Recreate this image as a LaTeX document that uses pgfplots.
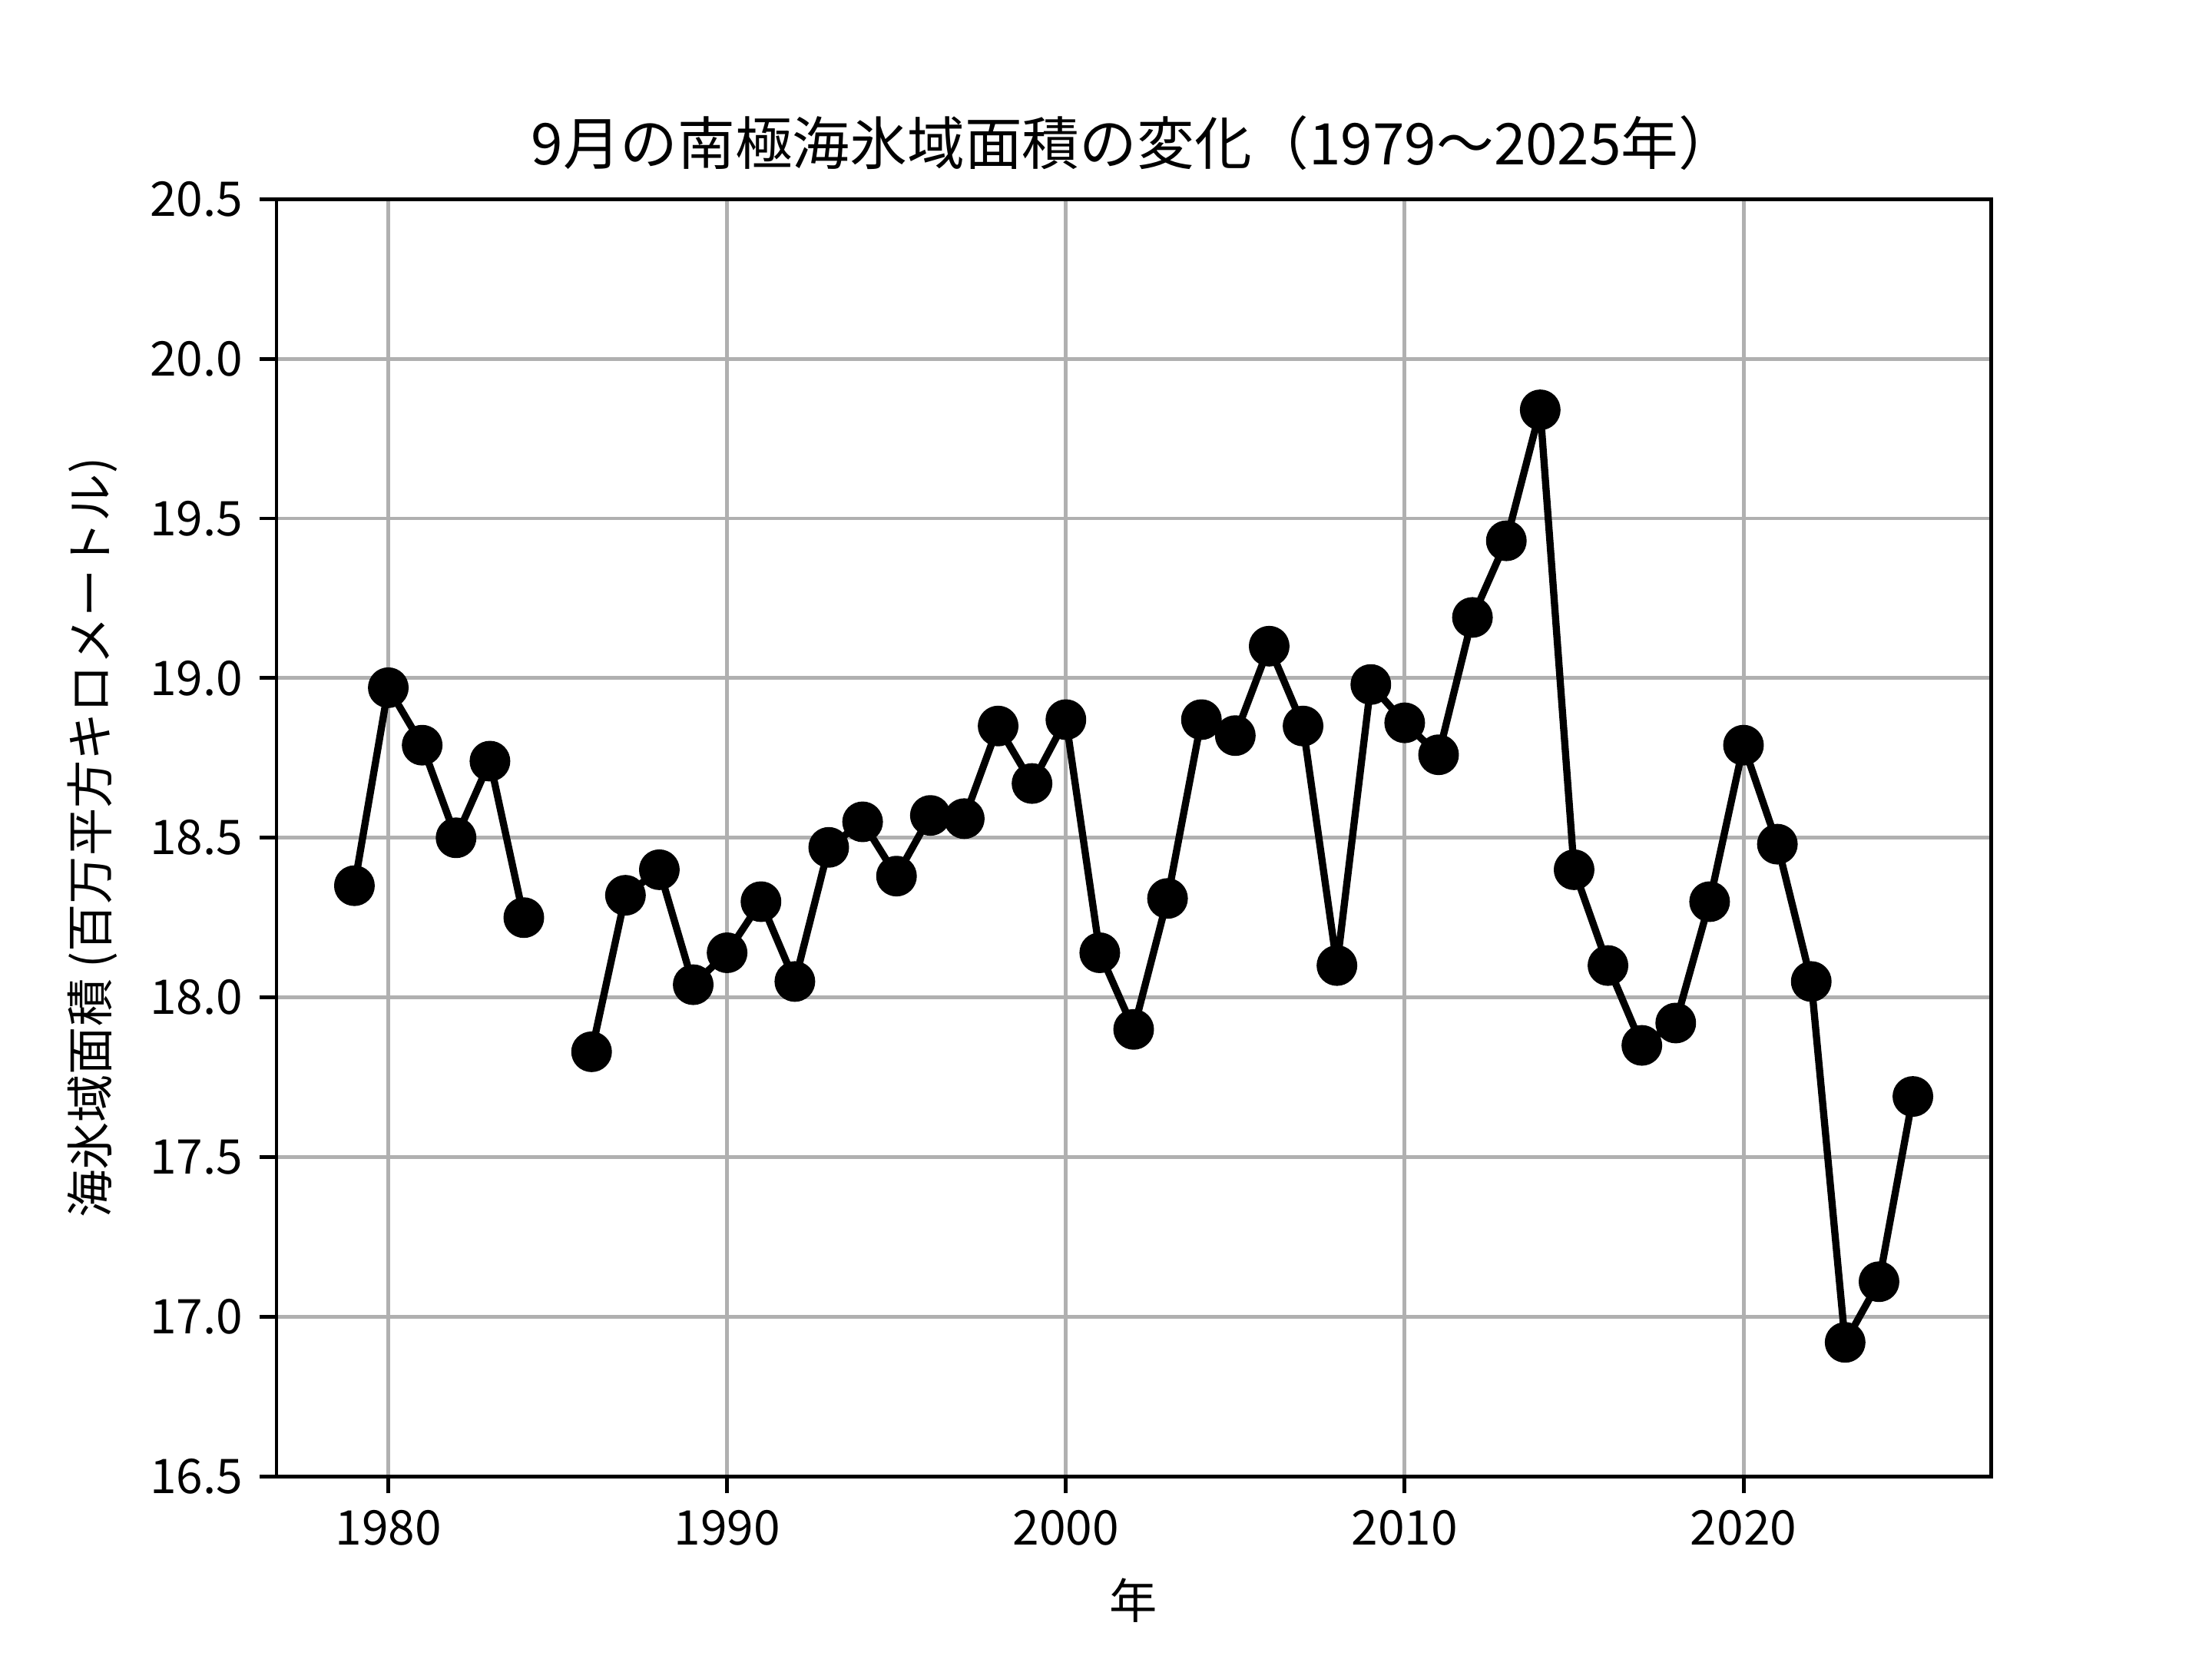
\documentclass[border=0pt]{standalone}
\usepackage{pgfplots}
\pgfplotsset{compat=1.18}
\usepackage{fontspec}
\setmainfont{Noto Sans CJK JP}
\begin{document}
\begin{tikzpicture}
\pgfplotstableread{
x y
1979 18.35
1980 18.97
1981 18.79
1982 18.50
1983 18.74
1984 18.25
1985 nan
1986 17.83
1987 18.32
1988 18.40
1989 18.04
1990 18.14
1991 18.30
1992 18.05
1993 18.47
1994 18.55
1995 18.38
1996 18.57
1997 18.56
1998 18.85
1999 18.67
2000 18.87
2001 18.14
2002 17.90
2003 18.31
2004 18.87
2005 18.82
2006 19.10
2007 18.85
2008 18.10
2009 18.98
2010 18.86
2011 18.76
2012 19.19
2013 19.43
2014 19.84
2015 18.40
2016 18.10
2017 17.85
2018 17.92
2019 18.30
2020 18.79
2021 18.48
2022 18.05
2023 16.92
2024 17.11
2025 17.69
}\datatable
\begin{axis}[
  at={(0,0)}, anchor=south west,
  scale only axis,
  width=4.96in, height=3.696in,
  xmin=1976.7, xmax=2027.3,
  ymin=16.5, ymax=20.5,
  xtick={1980,1990,2000,2010,2020},
  ytick={16.5,17,17.5,18,18.5,19,19.5,20,20.5},
  xticklabel style={/pgf/number format/1000 sep={}},
  yticklabel style={/pgf/number format/.cd,fixed,fixed zerofill,precision=1},
  /pgf/number format/assume math mode=true,
  tick label style={font=\fontsize{10}{12}\selectfont},
  tick align=outside,
  tick pos=left,
  major tick length=3.5pt,
  every tick/.style={black, line width=0.8pt},
  axis line style={line width=0.8pt},
  grid=major,
  major grid style={color=black!31, line width=0.8pt},
  xlabel={年},
  ylabel={海氷域面積 (百万平方キロメートル)},
  label style={font=\fontsize{10}{12}\selectfont},
  title={9月の南極海氷域面積の変化（1979〜2025年）},
  title style={font=\fontsize{12}{14}\selectfont, yshift=-3.5pt},
  unbounded coords=jump,
]
\addplot[black, line width=1.5pt, line join=round, mark=*, mark size=3.5pt, mark options={solid, fill=black}] table[x=x, y=y] {\datatable};
\end{axis}
\path[use as bounding box] (-0.8in,-0.528in) rectangle (5.6in,4.272in);
\end{tikzpicture}
\end{document}
